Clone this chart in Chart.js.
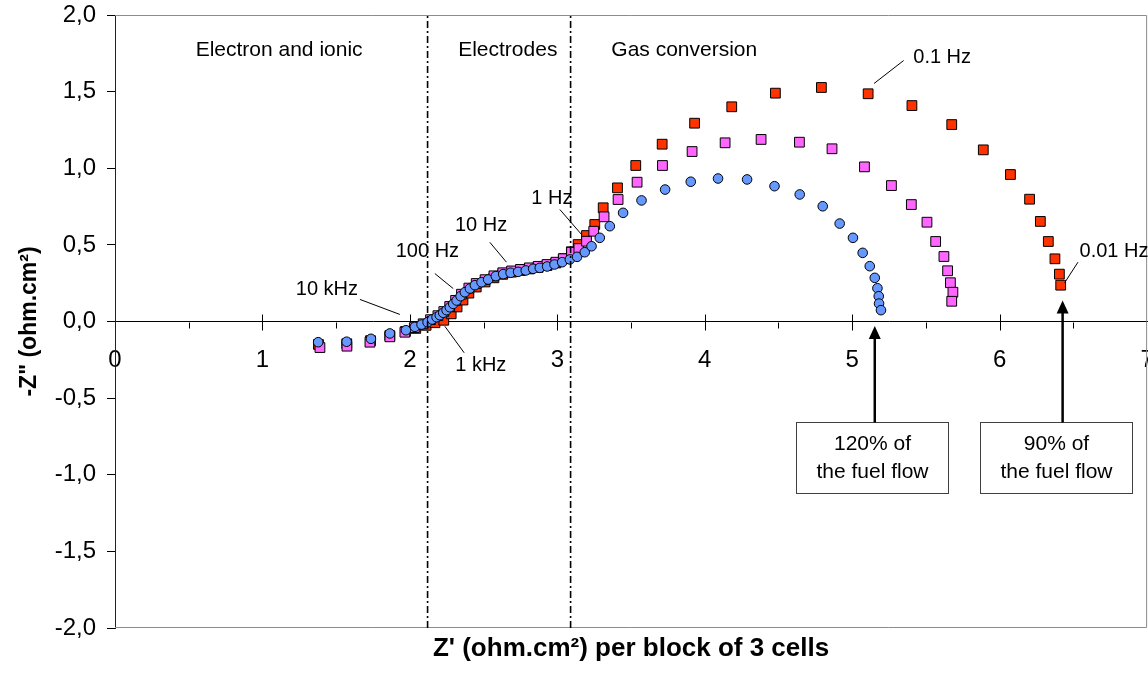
<!DOCTYPE html>
<html>
<head>
<meta charset="utf-8">
<title>Impedance spectra - block of 3 cells</title>
<script src="https://cdn.jsdelivr.net/npm/chart.js@4/dist/chart.umd.min.js"></script>
<style>
  html, body { margin: 0; padding: 0; background: #fff; overflow: hidden; }
  /* slightly wider than the window so the last tick label runs off the edge */
  #wrap { width: 1155px; height: 687px; }
</style>
</head>
<body>
<div id="wrap"><canvas id="nyquist"></canvas></div>
<script>
// ---- Nyquist data: Z' and -Z'' (ohm.cm²) per fuel flow ----
const zReal120 = [1.378, 1.571, 1.736, 1.864, 1.973, 2.034, 2.079, 2.120, 2.151, 2.181, 2.203, 2.226, 2.249, 2.271,
  2.294, 2.317, 2.344, 2.373, 2.407, 2.441, 2.486, 2.531, 2.583, 2.633, 2.683, 2.734, 2.786, 2.836, 2.881, 2.931,
  2.981, 3.033, 3.085, 3.134, 3.186, 3.232, 3.288, 3.356, 3.446, 3.571, 3.731, 3.905, 4.090, 4.287, 4.473, 4.644,
  4.800, 4.915, 5.005, 5.071, 5.119, 5.153, 5.171, 5.180, 5.182, 5.195];
const zImag120 = [-0.135, -0.132, -0.113, -0.078, -0.057, -0.035, -0.020, -0.005, 0.013, 0.028, 0.041, 0.057, 0.074, 0.093,
  0.115, 0.137, 0.165, 0.191, 0.215, 0.237, 0.256, 0.274, 0.296, 0.309, 0.318, 0.324, 0.333, 0.344, 0.350, 0.359,
  0.372, 0.387, 0.405, 0.422, 0.452, 0.491, 0.546, 0.622, 0.709, 0.790, 0.861, 0.912, 0.933, 0.927, 0.883, 0.829,
  0.752, 0.639, 0.546, 0.448, 0.361, 0.285, 0.217, 0.165, 0.117, 0.074];

const zReal100 = [1.390, 1.573, 1.729, 1.864, 1.966, 2.030, 2.090, 2.140, 2.190, 2.230, 2.270, 2.310, 2.350, 2.400,
  2.450, 2.510, 2.570, 2.630, 2.690, 2.750, 2.810, 2.870, 2.930, 2.990, 3.040, 3.096, 3.146, 3.198, 3.247, 3.317,
  3.412, 3.541, 3.713, 3.914, 4.138, 4.382, 4.642, 4.863, 5.083, 5.266, 5.401, 5.507, 5.566, 5.622, 5.647, 5.666,
  5.683, 5.675];
const zImag100 = [-0.170, -0.161, -0.135, -0.100, -0.070, -0.040, -0.015, 0.012, 0.038, 0.065, 0.098, 0.138, 0.178, 0.218,
  0.248, 0.273, 0.298, 0.318, 0.330, 0.340, 0.350, 0.360, 0.372, 0.387, 0.410, 0.452, 0.476, 0.524, 0.589, 0.683,
  0.796, 0.909, 1.018, 1.109, 1.166, 1.188, 1.170, 1.127, 1.009, 0.887, 0.763, 0.648, 0.522, 0.424, 0.331, 0.253,
  0.191, 0.132];

const zReal90 = [1.380, 1.572, 1.733, 1.864, 1.970, 2.040, 2.110, 2.170, 2.230, 2.280, 2.320, 2.360, 2.400, 2.450,
  2.510, 2.570, 2.630, 2.690, 2.750, 2.810, 2.870, 2.930, 2.990, 3.045, 3.095, 3.141, 3.198, 3.254, 3.311, 3.408,
  3.532, 3.711, 3.931, 4.183, 4.479, 4.791, 5.108, 5.405, 5.675, 5.889, 6.073, 6.203, 6.276, 6.330, 6.375, 6.405,
  6.414];
const zImag90 = [-0.150, -0.145, -0.125, -0.092, -0.065, -0.045, -0.025, -0.008, 0.008, 0.050, 0.095, 0.140, 0.185, 0.225,
  0.258, 0.285, 0.308, 0.322, 0.333, 0.343, 0.353, 0.365, 0.382, 0.410, 0.455, 0.502, 0.561, 0.633, 0.742, 0.872,
  1.018, 1.157, 1.294, 1.401, 1.490, 1.527, 1.486, 1.409, 1.285, 1.120, 0.959, 0.798, 0.653, 0.522, 0.409, 0.309,
  0.237];

// axis ranges / ticks
const xRange = [0, 7];
const yRange = [-2, 2];
const yStep = 0.5;

// boundaries between the three loss contributions (Z')
const zoneBounds = [2.12, 3.09];
const zoneNames = ['Electron and ionic', 'Electrodes', 'Gas conversion'];

const FONT = '"Liberation Sans", Arial, Helvetica, sans-serif';

// text placed in data units
const zoneLabels = [
  { text: zoneNames[0], x: 1.113, y: 1.77 },
  { text: zoneNames[1], x: 2.664, y: 1.77 },
  { text: zoneNames[2], x: 3.861, y: 1.77 },
];

const freqNotes = [
  { text: '10 kHz',  at: [1.437, 0.209],  from: [1.661, 0.144],  to: [1.932, 0.046] },
  { text: '100 Hz',  at: [2.119, 0.459],  from: [2.169, 0.313],  to: [2.294, 0.215] },
  { text: '10 Hz',   at: [2.483, 0.628],  from: [2.542, 0.517],  to: [2.655, 0.387] },
  { text: '1 Hz',    at: [2.963, 0.803],  from: [3.017, 0.731],  to: [3.164, 0.568] },
  { text: '1 kHz',   at: [2.481, -0.290], from: [2.237, -0.031], to: [2.368, -0.204] },
  { text: '0.1 Hz',  at: [5.610, 1.726],  from: [5.349, 1.703],  to: [5.148, 1.553] },
  { text: '0.01 Hz', at: [6.542, 0.460],  from: [6.531, 0.387],  to: [6.441, 0.253], align: 'left' },
];

const flowBoxes = [
  { lines: ['120% of', 'the fuel flow'], x0: 4.617, x1: 5.647, yTop: -0.653, yBot: -1.122, arrowX: 5.153, tip: -0.03 },
  { lines: ['90% of', 'the fuel flow'],  x0: 5.864, x1: 6.895, yTop: -0.653, yBot: -1.117, arrowX: 6.427, tip: 0.137 },
];

const pts = (xs, ys) => xs.map((x, i) => ({ x, y: ys[i] }));
const fmtComma = v => v.toFixed(1).replace('.', ',');

// frame + crossing tick marks on the Z'' = 0 axis
const frameAndTicks = {
  id: 'frameAndTicks',
  beforeDatasetsDraw(chart) {
    const { ctx, chartArea: a, scales: { x, y } } = chart;
    ctx.save();
    ctx.strokeStyle = '#8c8c8c';
    ctx.lineWidth = 1;
    ctx.beginPath();
    ctx.moveTo(a.left, a.top + 0.5);
    ctx.lineTo(a.right - 0.5, a.top + 0.5);
    ctx.lineTo(a.right - 0.5, a.bottom - 0.5);
    ctx.lineTo(a.left, a.bottom - 0.5);
    ctx.stroke();

    const y0 = Math.round(y.getPixelForValue(0)) + 0.5;
    ctx.strokeStyle = '#000';
    ctx.beginPath();
    for (let v = xRange[0] + 0.5; v < xRange[1]; v += 0.5) {
      const px = Math.round(x.getPixelForValue(v)) + 0.5;
      const major = Number.isInteger(v);
      ctx.moveTo(px, major ? y0 - 8 : y0);
      ctx.lineTo(px, major ? y0 + 8 : y0 + 6);
    }
    ctx.stroke();
    ctx.restore();
  }
};

// zone names, frequency call-outs, fuel-flow boxes and arrows
const notes = {
  id: 'notes',
  afterDatasetsDraw(chart) {
    const { ctx, scales: { x, y } } = chart;
    const px = v => x.getPixelForValue(v);
    const py = v => y.getPixelForValue(v);
    ctx.save();
    ctx.fillStyle = '#000';
    ctx.textBaseline = 'middle';

    ctx.font = `21px ${FONT}`;
    ctx.textAlign = 'center';
    zoneLabels.forEach(z => ctx.fillText(z.text, px(z.x), py(z.y)));

    ctx.font = `20px ${FONT}`;
    ctx.strokeStyle = '#000';
    ctx.lineWidth = 1;
    freqNotes.forEach(n => {
      ctx.textAlign = n.align || 'center';
      ctx.fillText(n.text, px(n.at[0]), py(n.at[1]));
      ctx.beginPath();
      ctx.moveTo(px(n.from[0]), py(n.from[1]));
      ctx.lineTo(px(n.to[0]), py(n.to[1]));
      ctx.stroke();
    });

    ctx.font = `21px ${FONT}`;
    ctx.textAlign = 'center';
    flowBoxes.forEach(b => {
      const l = Math.round(px(b.x0)) + 0.5, r = Math.round(px(b.x1)) + 0.5;
      const t = Math.round(py(b.yTop)) + 0.5, bt = Math.round(py(b.yBot)) + 0.5;
      ctx.fillStyle = '#fff';
      ctx.fillRect(l, t, r - l, bt - t);
      ctx.strokeStyle = '#404040';
      ctx.lineWidth = 1;
      ctx.strokeRect(l, t, r - l, bt - t);
      ctx.fillStyle = '#000';
      const cx = (l + r) / 2;
      ctx.fillText(b.lines[0], cx, t + 22);
      ctx.fillText(b.lines[1], cx, t + 50);

      // arrow from the box up to the end of the arc
      const ax = px(b.arrowX), tipY = py(b.tip);
      ctx.strokeStyle = '#000';
      ctx.lineWidth = 2.5;
      ctx.beginPath();
      ctx.moveTo(ax, t);
      ctx.lineTo(ax, tipY + 10);
      ctx.stroke();
      ctx.beginPath();
      ctx.moveTo(ax, tipY);
      ctx.lineTo(ax - 6, tipY + 13);
      ctx.lineTo(ax + 6, tipY + 13);
      ctx.closePath();
      ctx.fill();
    });
    ctx.restore();
  }
};

const marker = (fill, style, r) => ({
  showLine: false,
  pointStyle: style,
  pointRadius: r,
  pointHoverRadius: r,
  backgroundColor: fill,
  borderColor: '#000',
  pointBorderWidth: 1,
  borderWidth: 1,
});

const dividers = zoneBounds.map(b => ({
  type: 'line',
  data: [{ x: b, y: yRange[0] }, { x: b, y: yRange[1] }],
  borderColor: '#000',
  borderWidth: 1.6,
  borderDash: [7, 3, 2, 3],
  pointRadius: 0,
  fill: false,
  order: 0,
}));

new Chart(document.getElementById('nyquist'), {
  type: 'scatter',
  data: {
    datasets: [
      { label: '120% of the fuel flow', data: pts(zReal120, zImag120), ...marker('#6699FF', 'circle', 4.8), order: 1 },
      { label: '100% of the fuel flow', data: pts(zReal100, zImag100), ...marker('#FF66FF', 'rect', 6.9), order: 2 },
      { label: '90% of the fuel flow',  data: pts(zReal90, zImag90),  ...marker('#FF3300', 'rect', 6.9), order: 3 },
      ...dividers,
    ]
  },
  plugins: [frameAndTicks, notes],
  options: {
    responsive: true,
    maintainAspectRatio: false,
    animation: false,
    layout: { padding: { top: 15, right: 0, left: 0, bottom: 0 } },
    plugins: {
      legend: { display: false },
      tooltip: { enabled: false },
    },
    scales: {
      x: {
        type: 'linear',
        min: xRange[0], max: xRange[1],
        position: { y: 0 },
        ticks: { stepSize: 1, color: '#000', font: { family: FONT, size: 24 }, padding: 16, maxRotation: 0 },
        grid: { display: false },
        border: { display: true, color: '#000', width: 1 },
        afterFit: s => { s.paddingLeft = 0; s.paddingRight = 0; },
      },
      xTitle: {
        type: 'linear',
        axis: 'x',
        position: 'bottom',
        min: xRange[0], max: xRange[1],
        ticks: { display: false },
        grid: { display: false },
        border: { display: false },
        title: {
          display: true,
          text: "Z' (ohm.cm²) per block of 3 cells",
          color: '#000',
          font: { family: FONT, size: 26, weight: 'bold' },
          padding: { top: 0, bottom: 23 },
        },
        afterFit: s => { s.height = 59; s.paddingLeft = 0; s.paddingRight = 0; },
      },
      y: {
        type: 'linear',
        position: 'left',
        min: yRange[0], max: yRange[1],
        ticks: { stepSize: yStep, color: '#000', font: { family: FONT, size: 24 }, padding: 11, callback: fmtComma },
        grid: { display: true, drawOnChartArea: false, drawTicks: true, tickLength: 8, color: '#000' },
        border: { display: true, color: '#222', width: 1 },
        title: {
          display: true,
          text: '-Z" (ohm.cm²)',
          color: '#000',
          font: { family: FONT, size: 23, weight: 'bold' },
          padding: { top: 16, bottom: 0 },
        },
        afterFit: s => { s.width = 115; s.paddingTop = 0; s.paddingBottom = 0; },
      },
    },
  },
});
</script>
</body>
</html>
